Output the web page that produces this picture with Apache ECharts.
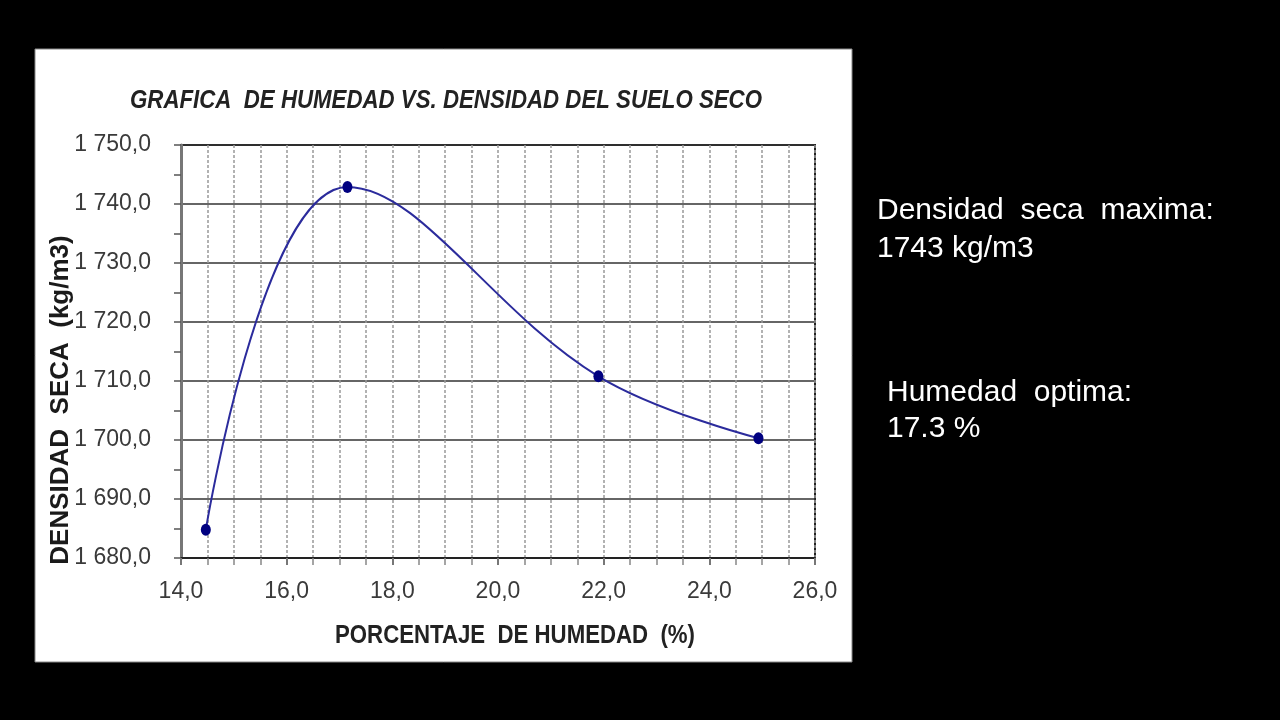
<!DOCTYPE html>
<html>
<head>
<meta charset="utf-8">
<script src="https://cdn.jsdelivr.net/npm/echarts@6/dist/echarts.min.js"></script>
<style>
html,body{margin:0;padding:0;background:#000;}
#chart{width:1280px;height:720px;}
</style>
</head>
<body>
<div id="chart"></div>
<script>
// Data
const humedad = [14.47, 17.15, 21.9, 24.93];
const densidad = [1684.8, 1742.9, 1710.8, 1700.3];
const xTicks = [14, 16, 18, 20, 22, 24, 26];
const yTicks = [1680, 1690, 1700, 1710, 1720, 1730, 1740, 1750];
const titleText = 'GRAFICA  DE HUMEDAD VS. DENSIDAD DEL SUELO SECO';
const xName = 'PORCENTAJE  DE HUMEDAD  (%)';
const yName = 'DENSIDAD  SECA  (kg/m3)';
const note1 = ['Densidad  seca  maxima:', '1743 kg/m3'];
const note2 = ['Humedad  optima:', '17.3 %'];

const ARIAL = '"Liberation Sans", Arial, sans-serif';

const fmtX = v => v.toFixed(1).replace('.', ',');
const fmtY = v => v.toFixed(1).replace('.', ',').replace(/^(\d)(\d{3})/, '$1 $2');

// measure text to condense it horizontally like the narrow font of the reference
const mctx = document.createElement('canvas').getContext('2d');
function fitScale(text, font, target) {
  mctx.font = font;
  return target / mctx.measureText(text).width;
}
const titleFont = 'italic bold 26px ' + ARIAL;
const xNameFont = 'bold 26px ' + ARIAL;

const chart = echarts.init(document.getElementById('chart'), null, {renderer: 'canvas'});
chart.setOption({
  backgroundColor: '#000',
  animation: false,
  graphic: [
    {type: 'rect', z: -100, shape: {x: 35, y: 49, width: 817, height: 613}, style: {fill: '#fff', stroke: '#888', lineWidth: 1}},
    {type: 'text', x: 446, y: 101, scaleX: fitScale(titleText, titleFont, 632),
      style: {text: titleText, fill: '#222', font: titleFont, align: 'center', verticalAlign: 'middle'}},
    {type: 'text', x: 515, y: 636, scaleX: fitScale(xName, xNameFont, 360),
      style: {text: xName, fill: '#222', font: xNameFont, align: 'center', verticalAlign: 'middle'}},
    {type: 'text', x: 61, y: 400, rotation: Math.PI / 2, style: {text: yName, fill: '#1a1a1a', font: 'bold 26px ' + ARIAL, align: 'center', verticalAlign: 'middle'}},
    {type: 'text', x: 877, y: 196, style: {text: note1[0], fill: '#fff', font: '30px ' + ARIAL, verticalAlign: 'top'}},
    {type: 'text', x: 877, y: 234, style: {text: note1[1], fill: '#fff', font: '30px ' + ARIAL, verticalAlign: 'top'}},
    {type: 'text', x: 887, y: 378, style: {text: note2[0], fill: '#fff', font: '30px ' + ARIAL, verticalAlign: 'top'}},
    {type: 'text', x: 887, y: 414, style: {text: note2[1], fill: '#fff', font: '30px ' + ARIAL, verticalAlign: 'top'}}
  ],
  grid: {left: 181, right: 465, top: 145, bottom: 162, show: true, backgroundColor: '#fff', borderColor: '#222', borderWidth: 2},
  xAxis: {
    type: 'value', min: xTicks[0], max: xTicks[xTicks.length - 1], interval: 2,
    axisLine: {show: true, lineStyle: {color: '#222', width: 2}},
    axisTick: {show: true, length: 7, lineStyle: {color: '#777', width: 2}},
    minorTick: {show: true, splitNumber: 4, length: 7, lineStyle: {color: '#888', width: 1.5}},
    axisLabel: {formatter: fmtX, margin: 22, fontFamily: ARIAL, fontSize: 23, color: '#3a3a3a'},
    splitLine: {show: true, lineStyle: {color: '#999', width: 1.5, type: [3, 2]}},
    minorSplitLine: {show: true, lineStyle: {color: '#999', width: 1.5, type: [3, 2]}}
  },
  yAxis: {
    type: 'value', min: yTicks[0], max: yTicks[yTicks.length - 1], interval: 10,
    axisLine: {show: true, lineStyle: {color: '#777', width: 3}},
    axisTick: {show: true, length: 7, lineStyle: {color: '#555', width: 1.5}},
    minorTick: {show: true, splitNumber: 2, length: 7, lineStyle: {color: '#555', width: 1.5}},
    axisLabel: {formatter: fmtY, margin: 30, fontFamily: ARIAL, fontSize: 23, color: '#3a3a3a'},
    splitLine: {show: true, lineStyle: {color: '#333', width: 1.5}}
  },
  series: [{
    type: 'line',
    data: humedad.map((x, i) => [x, densidad[i]]),
    smooth: 0.4,
    symbol: 'circle',
    symbolSize: [10, 12],
    itemStyle: {color: '#000080'},
    lineStyle: {color: '#2b2b9c', width: 2}
  }]
});
</script>
</body>
</html>
